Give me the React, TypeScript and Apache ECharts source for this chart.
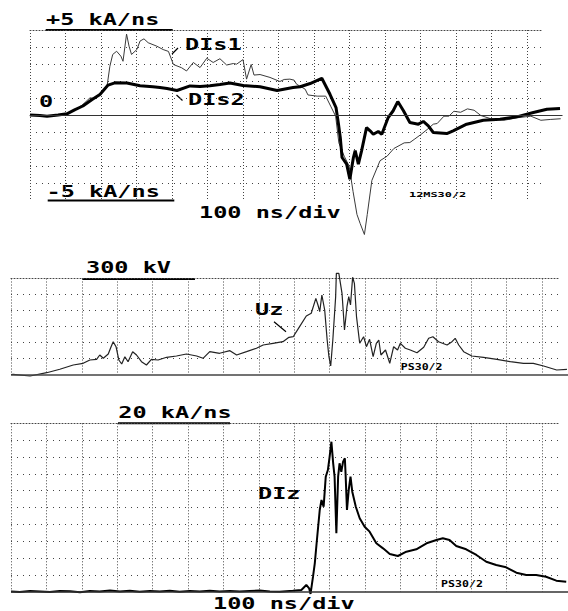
import React, { useEffect, useRef } from "react";
import * as echarts from "echarts";

// ---- Panel 1: DIs1 / DIs2 (kA/ns vs ns), 100 ns/div, 1 kA/ns/div ----
const dis1: [number, number][] = [
  [0, 0], [28, -0.03], [48, -0.07], [79, 0], [104, 0.07], [127, 0.29], [149, 0.62], [169, 1.01], [183, 0.97],
  [197, 1.21], [217, 1.69], [225, 2.87], [233, 3.56], [244, 3.75], [256, 3.46], [262, 3.16], [272, 4.76],
  [279, 4.05], [286, 3.56], [301, 3.85], [310, 4.35], [321, 4.48], [333, 4.25], [357, 4.05], [375, 3.85],
  [390, 3.74], [404, 2.97], [427, 2.78], [441, 2.59], [460, 3.09], [479, 2.79], [498, 3.34], [516, 3.09],
  [535, 3.31], [554, 2.94], [573, 3.03], [582, 2.99], [600, 3.26], [610, 2.11], [623, 2.97], [631, 2.35],
  [648, 2.38], [676, 2.21], [704, 1.97], [716, 2.09], [732, 2.11], [744, 2.05], [751, 1.81], [775, 1.52],
  [783, 1.18], [809, 1.11], [833, 1.11], [847, 0.52], [861, -0.07], [870, -1.64], [885, -2.42], [899, -3.01],
  [910, -4.5], [921, -5.85], [930, -6.38], [942, -7.03], [950, -5.85], [963, -3.85], [986, -2.69],
  [1006, -2.42], [1025, -1.97], [1054, -1.64], [1070, -1.62], [1082, -1.44], [1101, -1.15], [1119, -0.85],
  [1136, -0.54], [1147, -0.5], [1166, -0.07], [1180, -0.07], [1194, 0.22], [1213, 0.16], [1232, 0.36],
  [1251, 0.28], [1270, -0.03], [1298, -0.22], [1335, -0.31], [1373, -0.16], [1411, -0.07], [1439, -0.31],
  [1467, -0.26], [1495, -0.22],
];

const dis2: [number, number][] = [
  [0, 0], [28, -0.03], [48, -0.07], [79, 0], [104, 0.07], [127, 0.32], [149, 0.53], [175, 0.91], [197, 1.21],
  [220, 1.76], [239, 1.89], [273, 1.88], [310, 1.72], [346, 1.66], [366, 1.62], [386, 1.56], [414, 1.44],
  [451, 1.71], [479, 1.68], [507, 1.72], [535, 1.79], [563, 1.88], [600, 1.74], [648, 1.66], [696, 1.44],
  [741, 1.62], [761, 1.66], [789, 1.85], [822, 2.16], [845, 1.22], [862, 0.44], [869, -0.54], [874, -1.32],
  [879, -2.5], [892, -2.89], [901, -3.78], [911, -2.5], [916, -2.09], [925, -2.89], [934, -2.11],
  [948, -0.74], [958, -0.93], [967, -1.13], [981, -0.97], [991, -1.13], [1009, -0.15], [1023, 0.25],
  [1036, 0.79], [1052, 0.25], [1070, -0.44], [1094, -0.54], [1108, -0.38], [1122, -0.64], [1136, -1.03],
  [1174, -1.09], [1192, -0.93], [1230, -0.54], [1277, -0.31], [1324, -0.25], [1371, -0.11], [1418, 0.15],
  [1456, 0.34], [1493, 0.38],
];

// ---- Panel 2: Uz (kV vs ns), 50 kV/div ----
const uz: [number, number][] = [
  [0, 0], [6, 0.5], [54, -4.7], [101, 5.6], [138, 16.3], [176, 29.7], [204, 35], [223, 45.3], [242, 47.5],
  [251, 60.9], [261, 50.6], [275, 64.1], [283, 86.9], [289, 102.5], [297, 86.9], [305, 45.3], [313, 32.8],
  [322, 55.6], [331, 40], [344, 71.3], [355, 60.9], [369, 40], [383, 29.7], [397, 47.5], [416, 45.3],
  [440, 53.8], [468, 57.8], [496, 64.1], [525, 57.8], [543, 50.6], [562, 71.3], [590, 66.3], [619, 74.4],
  [638, 60.9], [666, 71.3], [694, 81.9], [713, 92.2], [741, 97.5], [769, 102.5], [786, 116.3], [798, 118.1],
  [816, 149.4], [835, 182.8], [849, 191.3], [862, 238.1], [868, 217.2], [873, 196.3], [879, 248.4],
  [887, 201.6], [894, 107.8], [899, 55.6], [904, 26.6], [910, 107.8], [918, 243.1], [920, 316.3],
  [927, 316.3], [936, 253.8], [943, 139.1], [950, 211.9], [955, 243.1], [960, 217.2], [966, 303.8],
  [971, 285], [977, 180.6], [986, 97.5], [997, 118.1], [1005, 86.9], [1014, 110], [1024, 55.6], [1033, 97.5],
  [1040, 107.8], [1046, 60.9], [1059, 76.6], [1071, 35], [1082, 86.9], [1093, 76.6], [1101, 97.5],
  [1115, 81.9], [1129, 76.6], [1148, 68.1], [1167, 85], [1181, 113.1], [1193, 118.1], [1209, 102.5],
  [1233, 92.2], [1247, 102.5], [1256, 113.1], [1266, 92.2], [1280, 71.3], [1303, 57.8], [1336, 53.8],
  [1374, 47.5], [1412, 40], [1449, 35], [1477, 35], [1506, 26.6], [1543, 14.1], [1572, 16.3],
];

// ---- Panel 3: DIz (kA/ns vs ns), 2 kA/ns/div ----
const diz: [number, number][] = [
  [0, 0.02], [25, -0.04], [54, 0.08], [82, 0.02], [110, -0.04], [138, 0.08], [167, 0.05], [195, -0.06],
  [223, 0.08], [251, 0.02], [280, 0.14], [308, 0.02], [336, 0.11], [364, -0.01], [393, 0.08], [421, 0.01],
  [449, 0.11], [477, -0.01], [506, 0.08], [534, 0.02], [562, 0.11], [590, 0.01], [619, 0.08], [647, 0.02],
  [675, 0.08], [703, 0.14], [732, 0.02], [760, 0], [797, 0.12], [821, 0.2], [835, 0.8], [843, 0.4],
  [847, -0.27], [854, 1.78], [859, 3.37], [865, 6.14], [873, 9.7], [878, 10.89], [884, 10.09], [890, 13.66],
  [896, 14.45], [901, 16.03], [906, 17.81], [911, 15.25], [915, 13.66], [920, 6.94], [925, 13.66],
  [929, 15.25], [934, 14.25], [939, 15.44], [944, 15.84], [946, 14.06], [950, 9.7], [955, 12.08],
  [960, 13.66], [965, 11.88], [975, 10.09], [986, 8.72], [1000, 7.72], [1014, 7.13], [1033, 5.75],
  [1052, 5.15], [1071, 4.48], [1094, 4.24], [1118, 4.75], [1146, 5.04], [1175, 5.75], [1203, 6.14],
  [1221, 6.34], [1240, 6.14], [1259, 5.43], [1287, 5.04], [1316, 4.36], [1344, 3.56], [1372, 3.17],
  [1400, 2.9], [1429, 2.26], [1457, 1.98], [1485, 1.98], [1513, 1.78], [1542, 1.31], [1570, 1.19],
];

const FONT_BIG = 'bold 15px "DejaVu Sans Mono"';
const FONT_SMALL = 'bold 7px "DejaVu Sans Mono"';
const FONT_SMALL2 = 'bold 8px "DejaVu Sans Mono"';

const VDASH = [1, 2];
const HDASH = [1, 5];
const GRID_COLOR = "#444";

function gratX(gridIndex: number, max: number, bottomLine: boolean) {
  return [
    {
      type: "value", gridIndex, min: 0, max, interval: 100, position: "bottom",
      axisLine: { show: bottomLine, lineStyle: { color: GRID_COLOR, width: 1, type: VDASH } },
      axisTick: { show: false }, axisLabel: { show: false },
      splitLine: { show: true, showMinLine: true, showMaxLine: false, lineStyle: { color: GRID_COLOR, width: 1, type: VDASH } },
    },
    {
      type: "value", gridIndex, min: 0, max, interval: 100, position: "top",
      axisLine: { show: true, lineStyle: { color: GRID_COLOR, width: 1, type: VDASH } },
      axisTick: { show: false }, axisLabel: { show: false }, splitLine: { show: false },
    },
  ];
}
function gratY(gridIndex: number, min: number, max: number, interval: number) {
  return {
    type: "value", gridIndex, min, max, interval,
    axisLine: { show: false }, axisTick: { show: false }, axisLabel: { show: false },
    splitLine: { show: true, showMinLine: false, showMaxLine: false, lineStyle: { color: GRID_COLOR, width: 1, type: HDASH } },
  };
}
function dataX(gridIndex: number, max: number) {
  return { type: "value", gridIndex, min: 0, max, show: false, splitLine: { show: false } };
}
function dataY(gridIndex: number, min: number, max: number) {
  return { type: "value", gridIndex, min, max, show: false, splitLine: { show: false } };
}

function label(text: string, x: number, y: number, font = FONT_BIG, scaleX = 1.57) {
  return {
    type: "text", x, y, scaleX, silent: true,
    style: { text, font, fill: "#000", align: "left", verticalAlign: "middle", textAlign: "left", textVerticalAlign: "middle" },
  };
}
function seg(x1: number, y1: number, x2: number, y2: number, w = 2) {
  return { type: "line", silent: true, shape: { x1, y1, x2, y2 }, style: { stroke: "#000", lineWidth: w } };
}

export default function App() {
  const ref = useRef<HTMLDivElement>(null);
  useEffect(() => {
    if (!ref.current) return;
    const chart = echarts.init(ref.current, null, { renderer: "svg" });
    const baseLine = (color: string, width: number) => ({
      silent: true, symbol: "none", label: { show: false },
      lineStyle: { type: "solid", color, width }, data: [{ yAxis: 0 }],
    });
    const option: any = {
      animation: false,
      backgroundColor: "#fff",
      grid: [
        { left: 30, top: 30, width: 512, height: 170 },
        { left: 30, top: 30, width: 532.5, height: 170 },
        { left: 11, top: 278.5, width: 548, height: 96 },
        { left: 11, top: 278.5, width: 557.5, height: 96 },
        { left: 11, top: 423.3, width: 548, height: 168.4 },
        { left: 11, top: 423.3, width: 557.5, height: 168.4 },
      ],
      xAxis: [
        ...gratX(0, 1442, true),
        dataX(1, 1500),
        ...gratX(2, 1548, false),
        dataX(3, 1575),
        ...gratX(4, 1548, false),
        dataX(5, 1575),
      ],
      yAxis: [
        gratY(0, -5, 5, 1),
        dataY(1, -5, 5),
        gratY(2, 0, 300, 50),
        dataY(3, 0, 300),
        gratY(4, 0, 20, 2),
        dataY(5, 0, 20),
      ],
      series: [
        {
          name: "DIs1", type: "line", xAxisIndex: 2, yAxisIndex: 1, data: dis1, symbol: "none", clip: false,
          silent: true, lineStyle: { color: "#3a3a3a", width: 1 }, markLine: baseLine("#333", 1), z: 3,
        },
        {
          name: "DIs2", type: "line", xAxisIndex: 2, yAxisIndex: 1, data: dis2, symbol: "none", clip: false,
          silent: true, lineStyle: { color: "#000", width: 3 }, z: 4,
        },
        {
          name: "Uz", type: "line", xAxisIndex: 5, yAxisIndex: 3, data: uz, symbol: "none", clip: false,
          silent: true, lineStyle: { color: "#222", width: 1.2 }, markLine: baseLine("#444", 1.5), z: 3,
        },
        {
          name: "DIz", type: "line", xAxisIndex: 8, yAxisIndex: 5, data: diz, symbol: "none", clip: false,
          silent: true, lineStyle: { color: "#000", width: 2 }, markLine: baseLine("#333", 1.5), z: 3,
        },
      ],
      graphic: [
        label("+5 kA/ns", 46, 20.5),
        seg(45.7, 30, 172.7, 30),
        label("-5 kA/ns", 46.5, 191.7),
        seg(47.7, 200.5, 174.3, 200.5),
        label("0", 39, 102),
        label("DIs1", 185, 44.7),
        seg(172, 54, 178, 48, 1.2),
        label("DIs2", 188, 100.5),
        seg(176.5, 95, 182.5, 100.5, 1.2),
        label("100 ns/div", 199, 213.3),
        label("12MS30/2", 409, 194.2, FONT_SMALL, 1.7),
        label("300 kV", 86, 268),
        seg(82.3, 279, 195, 279),
        label("Uz", 255, 310),
        seg(274, 321.7, 286, 331.7, 1.2),
        label("PS30/2", 400.7, 367.2, FONT_SMALL2, 1.45),
        label("20 kA/ns", 118.3, 413.3),
        seg(118, 423.3, 230, 423.3),
        label("DIz", 258, 493.8),
        label("PS30/2", 441, 584.5, FONT_SMALL2, 1.45),
        label("100 ns/div", 213, 603.7),
      ],
    };
    chart.setOption(option);
    return () => chart.dispose();
  }, []);
  return (
    <div
      ref={ref}
      style={{ position: "fixed", left: 0, top: 0, width: 568, height: 611, background: "#fff" }}
    />
  );
}
